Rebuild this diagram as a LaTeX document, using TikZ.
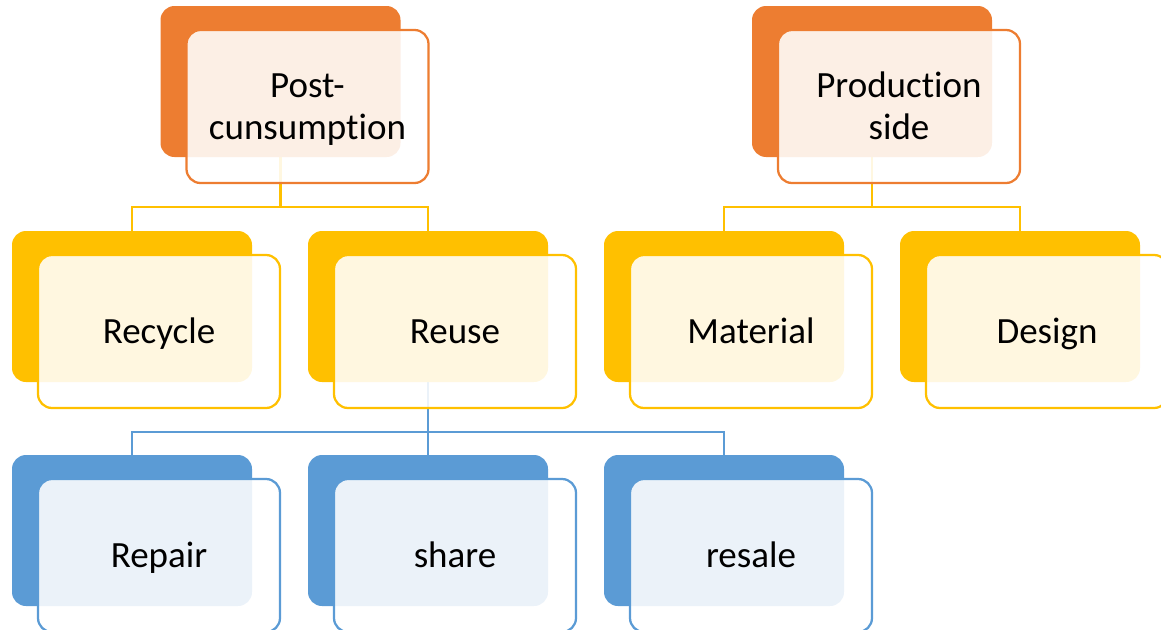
\documentclass[tikz,border=0pt]{standalone}
\usepackage{fontspec}
\setmainfont{Carlito}[Ligatures=NoCommon]
\usetikzlibrary{backgrounds}

\definecolor{orng}{HTML}{ED7D31}
\definecolor{gold}{HTML}{FFC000}
\definecolor{steel}{HTML}{5B9BD5}

\tikzset{
  backbox/.style={rectangle, rounded corners=14pt, minimum width=240pt,
    minimum height=151pt, inner sep=0pt, fill=#1},
  frontbox/.style={rectangle, rounded corners=14pt, minimum width=242pt,
    minimum height=153pt, inner sep=0pt, draw=#1, line width=2.25pt,
    fill=white, fill opacity=0.88, draw opacity=1, text opacity=1,
    font=\fontsize{37}{41.5}\selectfont, align=center, text width=232pt,
    text height=23.8pt},
  link/.style={draw=#1, line width=2.25pt}
}

% one tier element: solid back card with a translucent labelled card on top;
% the optional argument is the drop from the first to the last baseline
\newcommand\tiercard[6][0pt]{%
  \node[backbox=#5] (#2b) at (#3,#4) {};
  \node[frontbox=#5, text depth=#1] (#2) at (#3+27,#4+25) {#6};
}

\begin{document}
\begin{tikzpicture}[x=1pt,y=-1pt]
  \clip (0,0) rectangle (1161,629);

  % top level
  \tiercard[41.5pt]{post}{280.5}{81.5}{orng}{Post-\\cunsumption}
  \tiercard[41.5pt]{prod}{872}{81.5}{orng}{Production\\side}

  % second level
  \tiercard{recy}{132}{306.5}{gold}{Recycle}
  \tiercard{reus}{428}{306.5}{gold}{Reuse}
  \tiercard{matl}{724}{306.5}{gold}{Material}
  \tiercard{desg}{1020}{306.5}{gold}{Design}

  % third level
  \tiercard{repa}{132}{530.5}{steel}{Repair}
  \tiercard{shar}{428}{530.5}{steel}{share}
  \tiercard{resa}{724}{530.5}{steel}{resale}

  % connectors sit underneath the cards
  \begin{scope}[on background layer]
    \draw[link=gold] (postb.south) -- ++(0,50) -| (recyb.north);
    \draw[link=gold] (postb.south) -- ++(0,50) -| (reusb.north);
    \draw[link=gold] (prodb.south) -- ++(0,50) -| (matlb.north);
    \draw[link=gold] (prodb.south) -- ++(0,50) -| (desgb.north);
    \draw[link=steel] (reusb.south) -- ++(0,49.5) -| (repab.north);
    \draw[link=steel] (reusb.south) -- ++(0,49.5) -| (sharb.north);
    \draw[link=steel] (reusb.south) -- ++(0,49.5) -| (resab.north);
  \end{scope}
\end{tikzpicture}
\end{document}
